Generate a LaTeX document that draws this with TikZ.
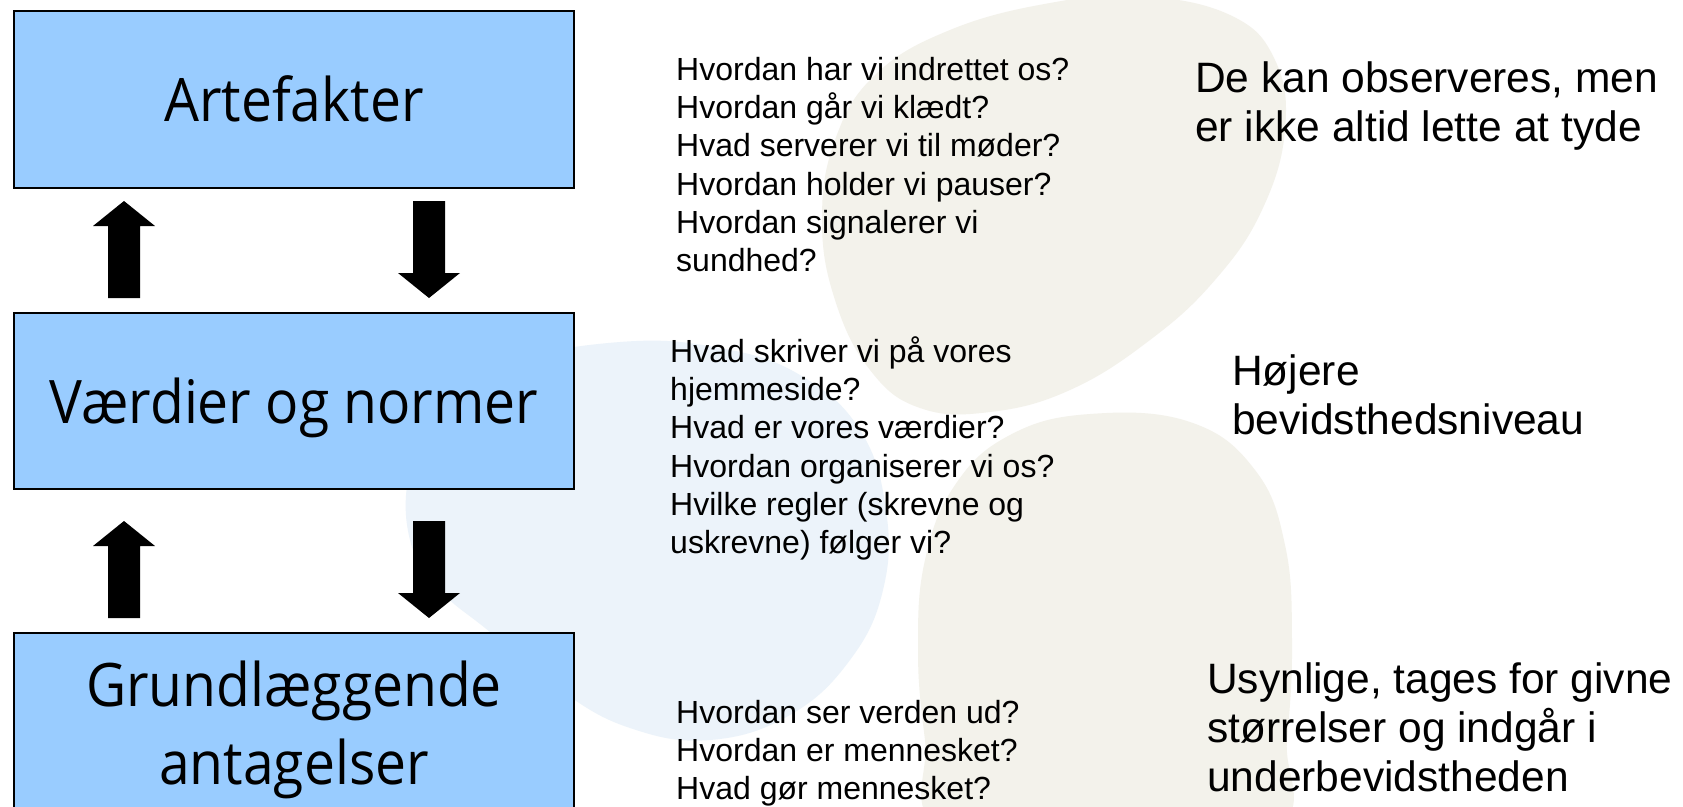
\documentclass[tikz,border=0pt]{standalone}
\usepackage{fontspec}
\setmainfont{Liberation Sans}
\newfontfamily\boxfont[FakeStretch=0.92]{Open Sans}
\usetikzlibrary{calc}
\definecolor{boxblue}{HTML}{99CCFF}
\definecolor{blobbeige}{HTML}{F3F2EB}
\definecolor{blobblue}{HTML}{ECF3FA}
% block arrow pointing up: #1 = bottom (centre of shaft), #2 = tip
\newcommand\blkup[2]{%
  \fill[black] let \p1=(#1), \p2=(#2) in
    (\x1-16pt,\y1) -- (\x1-16pt,\y2-25pt) -- (\x1-31pt,\y2-25pt) -- (\x1,\y2)
    -- (\x1+31pt,\y2-25pt) -- (\x1+16pt,\y2-25pt) -- (\x1+16pt,\y1) -- cycle;}
% block arrow pointing down: #1 = top (centre of shaft), #2 = tip
\newcommand\blkdown[2]{%
  \fill[black] let \p1=(#1), \p2=(#2) in
    (\x1-16pt,\y1) -- (\x1-16pt,\y2+25pt) -- (\x1-31pt,\y2+25pt) -- (\x1,\y2)
    -- (\x1+31pt,\y2+25pt) -- (\x1+16pt,\y2+25pt) -- (\x1+16pt,\y1) -- cycle;}
\begin{document}
\begin{tikzpicture}[x=1pt,y=-1pt,
  box/.style={draw=black, line width=2pt, fill=boxblue, rectangle, inner sep=0pt},
  boxlabel/.style={font=\boxfont\fontsize{60}{78}\selectfont, inner sep=0pt, align=center},
  smalltxt/.style={font=\fontsize{32}{38.3}\selectfont, align=left, anchor=north west, inner sep=0pt},
  largetxt/.style={font=\fontsize{42.5}{49}\selectfont, align=left, anchor=north west, inner sep=0pt}]
\useasboundingbox (0,0) rectangle (1683,806);
\fill[white] (0,0) rectangle (1683,806);
% background blobs
\begin{scope}
  \clip (0,0) rectangle (1683,806);
  \fill[blobbeige] plot[smooth cycle, tension=0.7] coordinates {
    (1140,-4) (1230,15) (1275,60) (1285,130) (1262,210) (1215,280) (1150,340)
    (1070,390) (990,412) (920,408) (870,370) (835,300) (822,220) (835,140)
    (875,75) (950,30) (1050,3)};
  \fill[blobbeige] plot[smooth cycle, tension=0.7] coordinates {
    (1090,414) (1190,422) (1255,470) (1285,545) (1292,640) (1287,740)
    (1275,830) (1100,870) (940,830) (925,740) (918,650) (925,560) (955,485) (1010,435)};
  \fill[blobblue] plot[smooth cycle, tension=0.7] coordinates {
    (620,342) (720,348) (800,375) (860,430) (886,510) (883,590) (850,660)
    (790,715) (710,740) (630,728) (560,690) (490,632) (440,590) (410,540)
    (410,470) (440,410) (500,365)};
\end{scope}
% boxes
\node[box, minimum width=560pt, minimum height=177pt] (b1) at (294,99.5) {};
\node[box, minimum width=560pt, minimum height=176pt] (b2) at (294,401) {};
\node[box, minimum width=560pt, minimum height=210pt] (b3) at (294,738) {};
\node[boxlabel, anchor=base] (t1) at ($(b1.center)+(0,21.5)$) {Artefakter};
\node[boxlabel, anchor=base] (t2) at ($(b2.center)+(0,22)$) {Værdier og normer};
\node[boxlabel, anchor=north] (t3) at ($(b3.north)+(0,14)$) {\rule{0pt}{1em}Grundlæggende\\antagelser};
% block arrows between the boxes
\coordinate (u1b) at (124,298); \coordinate (u1t) at (124,201);
\coordinate (d1t) at (429,201); \coordinate (d1b) at (429,298);
\coordinate (u2b) at (124,618); \coordinate (u2t) at (124,521);
\coordinate (d2t) at (429,521); \coordinate (d2b) at (429,618);
\blkup{u1b}{u1t}
\blkdown{d1t}{d1b}
\blkup{u2b}{u2t}
\blkdown{d2t}{d2b}
% question texts
\node[smalltxt] (q1) at (676,48) {\rule{0pt}{1em}Hvordan har vi indrettet os?\\Hvordan går vi klædt?\\Hvad serverer vi til møder?\\Hvordan holder vi pauser?\\Hvordan signalerer vi\\sundhed?};
\node[smalltxt] (q2) at (670,330) {\rule{0pt}{1em}Hvad skriver vi på vores\\hjemmeside?\\Hvad er vores værdier?\\Hvordan organiserer vi os?\\Hvilke regler (skrevne og\\uskrevne) følger vi?};
\node[smalltxt] (q3) at (676,691) {\rule{0pt}{1em}Hvordan ser verden ud?\\Hvordan er mennesket?\\Hvad gør mennesket?};
% comments
\node[largetxt] (c1) at (1195,50) {\rule{0pt}{1em}De kan observeres, men\\er ikke altid lette at tyde};
\node[largetxt] (c2) at (1232,343) {\rule{0pt}{1em}Højere\\bevidsthedsniveau};
\node[largetxt] (c3) at (1207,651) {\rule{0pt}{1em}Usynlige, tages for givne\\størrelser og indgår i\\underbevidstheden};
\end{tikzpicture}
\end{document}
